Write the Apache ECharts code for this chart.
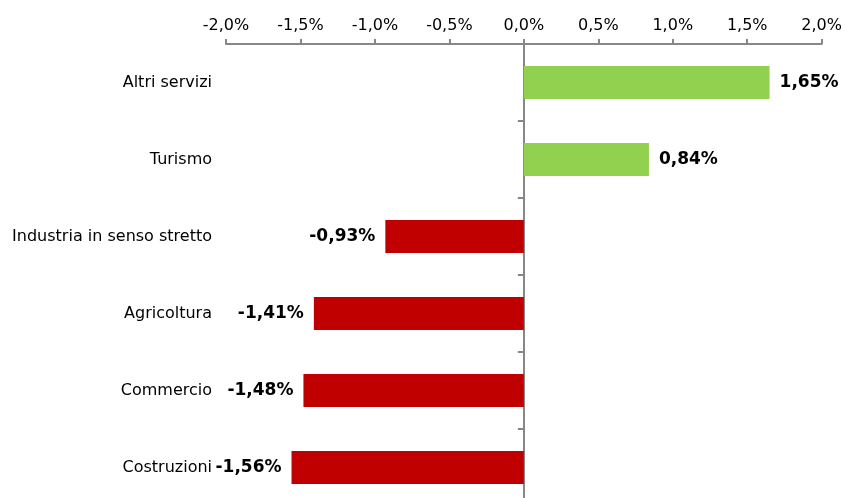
<!DOCTYPE html>
<html>
<head>
<meta charset="utf-8">
<script src="https://cdn.jsdelivr.net/npm/echarts@6/dist/echarts.min.js"></script>
<style>
html,body{margin:0;padding:0;background:#fff;overflow:hidden;width:845px;height:498px;}
#chart{width:845px;height:506px;}
</style>
</head>
<body>
<div id="chart"></div>
<script>
const categories = ['Altri servizi', 'Turismo', 'Industria in senso stretto', 'Agricoltura', 'Commercio', 'Costruzioni'];
const values = [1.65, 0.84, -0.93, -1.41, -1.48, -1.56];
const tickMin = -2, tickMax = 2, tickStep = 0.5;

const POS = '#92D050', NEG = '#C00000';
const fmt = (v, d) => v.toFixed(d).replace('.', ',') + '%';
const axisColor = '#878787';
const font = 'DejaVu Sans, Verdana, sans-serif';

const data = values.map(v => ({
  value: v,
  itemStyle: { color: v >= 0 ? POS : NEG },
  label: { position: v >= 0 ? 'right' : 'left' }
}));

const chart = echarts.init(document.getElementById('chart'));
chart.setOption({
  animation: false,
  backgroundColor: '#fff',
  grid: { left: 226, right: 22, top: 44, bottom: 0, containLabel: false },
  xAxis: {
    type: 'value', position: 'top',
    min: tickMin, max: tickMax, interval: tickStep,
    axisLine: { show: true, onZero: false, lineStyle: { color: axisColor, width: 2 } },
    axisTick: { show: true, length: 5, lineStyle: { color: axisColor, width: 2 } },
    splitLine: { show: false },
    axisLabel: { formatter: v => fmt(v, 1), fontFamily: font, fontSize: 16, color: '#000', margin: 10 }
  },
  yAxis: [
    {
      type: 'category', data: categories, inverse: true, position: 'left',
      axisLine: { show: false, onZero: false },
      axisTick: { show: false },
      axisLabel: { fontFamily: font, fontSize: 16, color: '#000', margin: 14 }
    },
    {
      type: 'category', data: categories, inverse: true, position: 'left',
      axisLine: { show: true, onZero: true, lineStyle: { color: axisColor, width: 2 } },
      axisTick: { show: true, inside: false, length: 6, lineStyle: { color: axisColor, width: 2 } },
      axisLabel: { show: false }
    }
  ],
  series: [{
    type: 'bar', yAxisIndex: 0, barWidth: 33,
    data: data,
    label: {
      show: true, distance: 10,
      formatter: p => fmt(p.value, 2),
      fontFamily: font, fontSize: 17, fontWeight: 'bold', color: '#000'
    }
  }]
});
</script>
</body>
</html>
